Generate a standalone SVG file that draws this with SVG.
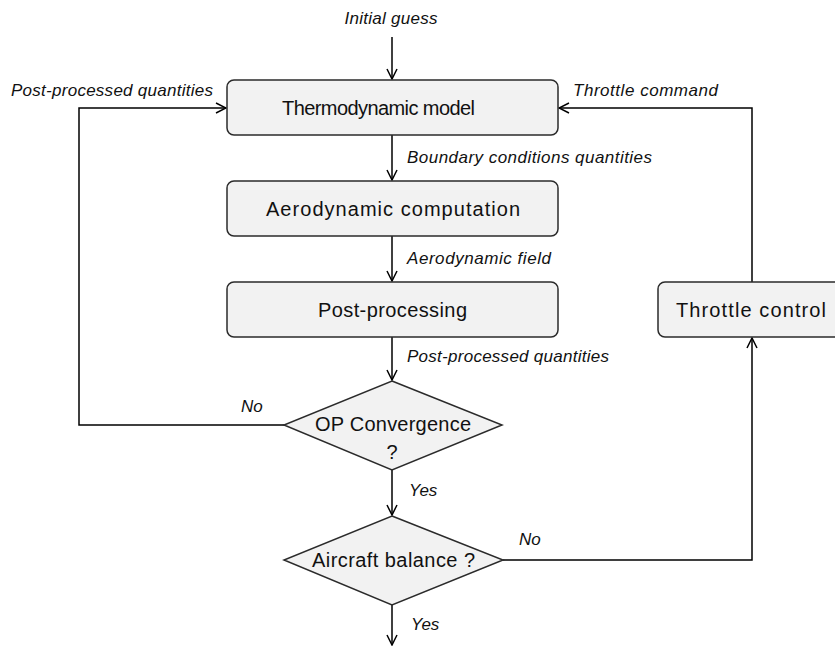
<svg xmlns="http://www.w3.org/2000/svg" width="835" height="646" viewBox="0 0 835 646">
<style>
.box{fill:#f2f2f2;stroke:#2b2b2b;stroke-width:1.5}
.lbl{font-family:"Liberation Sans",Arial,sans-serif;font-size:20px;fill:#111;text-anchor:middle}
.it{font-family:"Liberation Sans",Arial,sans-serif;font-size:17px;font-style:italic;fill:#111}
.c{fill:none;stroke:#000;stroke-width:1.5}
</style>
<defs>
<marker id="a" viewBox="0 0 12 12" refX="11" refY="6" markerWidth="12" markerHeight="12" markerUnits="userSpaceOnUse" orient="auto">
<polyline points="1,1 11,6 1,11" fill="none" stroke="#000" stroke-width="1.5"/>
</marker>
</defs>
<rect width="835" height="646" fill="#fff"/>
<g id="connectors">
<line class="c" x1="392" y1="37" x2="392" y2="79" marker-end="url(#a)"/>
<line class="c" x1="392" y1="135" x2="392" y2="180" marker-end="url(#a)"/>
<line class="c" x1="392" y1="236" x2="392" y2="281" marker-end="url(#a)"/>
<line class="c" x1="392" y1="337" x2="392" y2="380" marker-end="url(#a)"/>
<line class="c" x1="392" y1="470" x2="392" y2="515" marker-end="url(#a)"/>
<line class="c" x1="392" y1="605" x2="392" y2="645" marker-end="url(#a)"/>
<polyline class="c" points="284,425 79,425 79,108 226,108" marker-end="url(#a)"/>
<polyline class="c" points="752,282 752,108 559,108" marker-end="url(#a)"/>
<polyline class="c" points="503,560 752,560 752,338" marker-end="url(#a)"/>
</g>
<g id="labels">
<text class="it" x="391" y="24" text-anchor="middle" textLength="93">Initial guess</text>
<text class="it" x="11" y="96" textLength="202">Post-processed quantities</text>
<text class="it" x="573" y="96" textLength="145">Throttle command</text>
<text class="it" x="407" y="163" textLength="245">Boundary conditions quantities</text>
<text class="it" x="407" y="264" textLength="144">Aerodynamic field</text>
<text class="it" x="407" y="362" textLength="202">Post-processed quantities</text>
<text class="it" x="241" y="412">No</text>
<text class="it" x="409" y="496">Yes</text>
<text class="it" x="519" y="545">No</text>
<text class="it" x="411" y="630">Yes</text>
</g>
<g id="thermo">
<rect class="box" x="227" y="80" width="331" height="55" rx="7"/>
<text class="lbl" x="378.5" y="115" textLength="193">Thermodynamic model</text>
</g>
<g id="aero">
<rect class="box" x="227" y="181" width="331" height="55" rx="7"/>
<text class="lbl" x="393" y="216" textLength="254">Aerodynamic computation</text>
</g>
<g id="post">
<rect class="box" x="227" y="282" width="331" height="55" rx="7"/>
<text class="lbl" x="392.5" y="317" textLength="149">Post-processing</text>
</g>
<g id="throttle">
<rect class="box" x="658" y="282" width="190" height="55" rx="7"/>
<text class="lbl" x="751" y="317" textLength="150">Throttle control</text>
</g>
<g id="opconv">
<polygon class="box" points="392,381 502,425 392,470 284,425"/>
<text class="lbl" x="393" y="431" textLength="156">OP Convergence</text>
<text class="lbl" x="392" y="459">?</text>
</g>
<g id="balance">
<polygon class="box" points="392,516 503,560 392,605 284,560"/>
<text class="lbl" x="393.5" y="567" textLength="163">Aircraft balance ?</text>
</g>
</svg>
